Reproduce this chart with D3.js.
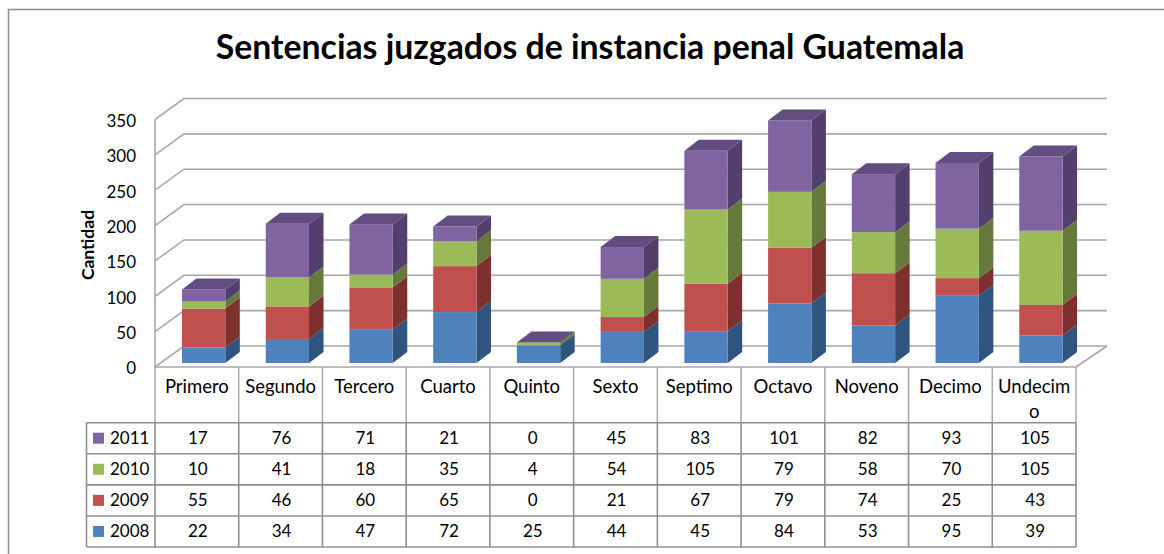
<!DOCTYPE html>
<html>
<head>
<meta charset="utf-8">
<script src="https://cdn.jsdelivr.net/npm/d3@7"></script>
<style>
  html, body { margin: 0; padding: 0; background: #fff; overflow: hidden; }
  svg { display: block; font-family: Lato, "Open Sans", sans-serif; }
</style>
</head>
<body>
<svg id="chart" width="1164" height="554"></svg>
<script>
const categories = ['Primero', 'Segundo', 'Tercero', 'Cuarto', 'Quinto', 'Sexto', 'Septimo', 'Octavo', 'Noveno', 'Decimo', 'Undecimo'];
const years = ['2008', '2009', '2010', '2011'];
const v2008 = [22, 34, 47, 72, 25, 44, 45, 84, 53, 95, 39];
const v2009 = [55, 46, 60, 65, 0, 21, 67, 79, 74, 25, 43];
const v2010 = [10, 41, 18, 35, 4, 54, 105, 79, 58, 70, 105];
const v2011 = [17, 76, 71, 21, 0, 45, 83, 101, 82, 93, 105];
const yTicks = [0, 50, 100, 150, 200, 250, 300, 350];

const seriesValues = { 2008: v2008, 2009: v2009, 2010: v2010, 2011: v2011 };
const front = { 2008: '#4f81bd', 2009: '#c0504d', 2010: '#9bbb59', 2011: '#8064a2' };
const side = { 2008: '#2f5480', 2009: '#7d302e', 2010: '#64793a', 2011: '#523f6e' };
const topFace = { 2008: '#3f6ba0', 2009: '#a03f3d', 2010: '#7f9a49', 2011: '#624c80' };

const GRID = '#a8a8a8', TABLE = '#8f8f8f';
const depthX = 29, depthY = 21;     // back wall offset
const barDX = 14.5, barDY = 11;     // depth of one column
const barInset = 27, barW = 43.3, barLift = 4;

const svg = d3.select('#chart');

const x = d3.scaleBand().domain(categories).range([155, 1076]);
const y = d3.scaleLinear().domain([0, 350]).range([367, 119.5]);

// chart frame, open on the right and bottom like the source
svg.append('path')
  .attr('d', 'M8.5,554V9.5H1164')
  .attr('fill', 'none').attr('stroke', '#8c8c8c').attr('stroke-width', 1.5);

svg.append('text')
  .attr('x', 590).attr('y', 59)
  .attr('text-anchor', 'middle')
  .attr('font-size', 33.8).attr('font-weight', 700).attr('fill', '#000')
  .text('Sentencias juzgados de instancia penal Guatemala');

// walls and gridlines
const wall = svg.append('g').attr('fill', 'none').attr('stroke', GRID).attr('stroke-width', 1.6);
wall.selectAll('.grid').data(yTicks).join('path')
  .attr('class', 'grid')
  .attr('d', d => `M155,${y(d)}L${155 + depthX},${y(d) - depthY}H1107`);
wall.append('path').attr('d', `M155,${y(350)}V${y(0)}`);
wall.append('path').attr('d', `M1076,${y(0)}L1107,${y(0) - depthY}`);
wall.append('path').attr('d', `M155,${y(0)}H1076`);

// y axis labels
const yAxis = d3.axisLeft(y).tickValues(yTicks).tickSize(0).tickPadding(0);
svg.append('g')
  .attr('transform', 'translate(136,1.5)')
  .call(yAxis)
  .call(g => g.select('.domain').remove())
  .call(g => g.selectAll('text').attr('font-size', 17).attr('font-family', 'Lato').attr('fill', '#000'));

svg.append('text')
  .attr('transform', 'translate(94,245) rotate(-90)')
  .attr('text-anchor', 'middle')
  .attr('font-size', 17.5).attr('font-weight', 700).attr('fill', '#000')
  .text('Cantidad');

// stacked columns
const rows = categories.map((c, i) => {
  const r = { category: c };
  years.forEach(k => { r[k] = seriesValues[k][i]; });
  return r;
});
const stacked = d3.stack().keys(years)(rows);
const sy = v => y(v) - barLift;   // column base sits a little behind the front edge

const bars = svg.append('g');
categories.forEach((c, i) => {
  const bx = x(c) + barInset;
  const g = bars.append('g');
  const total = d3.sum(years, k => seriesValues[k][i]);
  stacked.forEach(s => {
    const [y0, y1] = s[i];
    if (y1 === y0) return;
    g.append('path')
      .attr('fill', side[s.key])
      .attr('d', `M${bx + barW},${sy(y0)}l${barDX},${-barDY}V${sy(y1) - barDY}l${-barDX},${barDY}Z`);
    g.append('rect')
      .attr('x', bx).attr('y', sy(y1))
      .attr('width', barW).attr('height', sy(y0) - sy(y1))
      .attr('fill', front[s.key]);
  });
  g.append('path')
    .attr('fill', topFace['2011'])
    .attr('d', `M${bx},${sy(total)}l${barDX},${-barDY}h${barW}l${-barDX},${barDY}Z`);
});

// data table
const rowY = d3.scalePoint().domain(['2011', '2010', '2009', '2008', 'end']).range([422.7, 547]);
const tableYears = rowY.domain().slice(0, 4);
const table = svg.append('g');

table.append('g').attr('stroke', GRID).attr('stroke-width', 1.5)
  .selectAll('line').data(categories.concat('end')).join('line')
  .attr('x1', d => d === 'end' ? 1076 : x(d))
  .attr('x2', d => d === 'end' ? 1076 : x(d))
  .attr('y1', y(0)).attr('y2', rowY('2011'));

const tableLines = table.append('g').attr('stroke', TABLE).attr('stroke-width', 1.6);
tableLines.selectAll('.h').data(rowY.domain()).join('line')
  .attr('class', 'h')
  .attr('x1', 86.5).attr('x2', 1076)
  .attr('y1', d => rowY(d)).attr('y2', d => rowY(d));
tableLines.selectAll('.v').data([86.5].concat(categories.map(c => x(c)), 1076)).join('line')
  .attr('class', 'v')
  .attr('x1', d => d).attr('x2', d => d)
  .attr('y1', rowY('2011')).attr('y2', rowY('end'));

const catLabels = table.selectAll('.cat').data(categories).join('text')
  .attr('class', 'cat')
  .attr('text-anchor', 'middle').attr('font-size', 18.5).attr('fill', '#000')
  .attr('x', d => x(d) + x.bandwidth() / 2)
  .attr('y', 393);
// long names break mid-word when they do not fit the cell
catLabels.each(function (d) {
  const el = d3.select(this);
  const lines = d.length > 7 ? [d.slice(0, 7), d.slice(7)] : [d];
  lines.forEach((t, i) => el.append('tspan')
    .attr('x', x(d) + x.bandwidth() / 2)
    .attr('dy', i ? 25 : 0)
    .text(t));
});

tableYears.forEach(k => {
  const ry = rowY(k);
  table.append('rect')
    .attr('x', 93).attr('y', ry + 10).attr('width', 11).attr('height', 11)
    .attr('fill', front[k]);
  table.append('text')
    .attr('x', 110).attr('y', ry + 21.5)
    .attr('font-size', 17).attr('fill', '#000')
    .text(k);
  table.selectAll(`.val${k}`).data(seriesValues[k]).join('text')
    .attr('class', `val${k}`)
    .attr('x', (d, i) => x(categories[i]) + x.bandwidth() / 2 + 1)
    .attr('y', ry + 21.5)
    .attr('text-anchor', 'middle').attr('font-size', 17).attr('fill', '#000')
    .text(d => d);
});
</script>
</body>
</html>
